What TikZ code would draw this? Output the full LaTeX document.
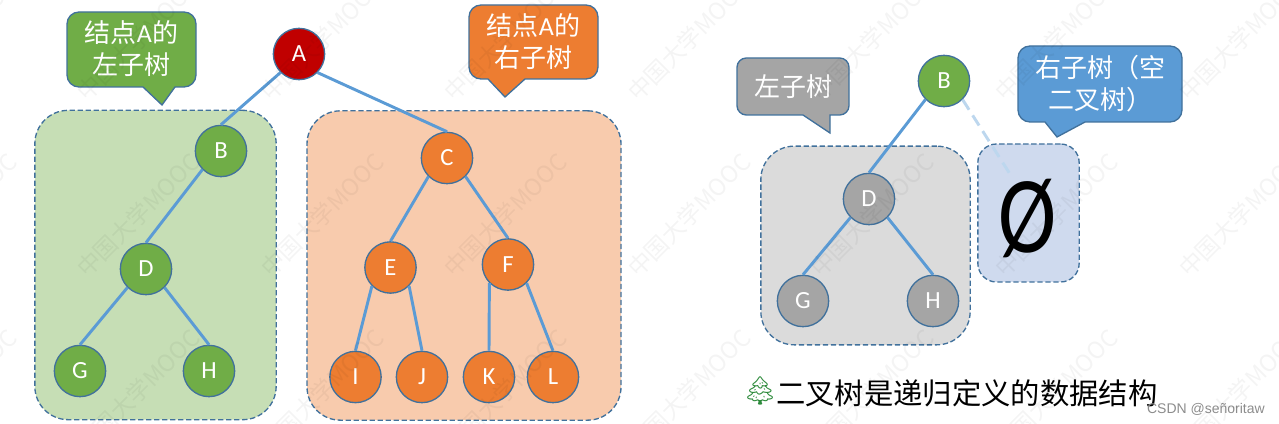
\documentclass[tikz,border=0pt]{standalone}
\usepackage{fontspec}
\setmainfont{Carlito}
\newfontfamily\cjk{Noto Sans CJK SC}
\newfontfamily\emoji{Noto Emoji}
\newfontfamily\csdn{Liberation Sans}
\usetikzlibrary{shapes,backgrounds,fit}
\definecolor{greenfill}{HTML}{70AD47}
\definecolor{orangefill}{HTML}{ED7D31}
\definecolor{bluefill}{HTML}{5B9BD5}
\definecolor{greyfill}{HTML}{A5A5A5}
\definecolor{rootfill}{HTML}{C00000}
\definecolor{edgeblue}{HTML}{41719C}
\definecolor{linkblue}{HTML}{5B9BD5}
\definecolor{nullfill}{HTML}{CFDAEE}
\definecolor{treegreen}{HTML}{2E8B3C}
\begin{document}
\begin{tikzpicture}[x=0.75pt, y=-0.75pt, auto,
	treenode/.style={circle, draw=edgeblue, line width=1pt, minimum size=38.5pt, inner sep=0pt, text=white, font=\fontsize{18.5}{20}\selectfont},
	region/.style={rectangle, draw=edgeblue, line width=1pt, dash pattern=on 4pt off 2pt, rounded corners=25pt, inner sep=0pt},
	bubble/.style={draw=edgeblue, line width=1pt},
	bubbletext/.style={align=center, text=white, inner sep=0pt, font=\fontsize{19.5}{24}\selectfont},
	link/.style={draw=linkblue, line width=2.2pt},
	watermark/.style={rotate=45, text=black, text opacity=0.045, inner sep=0pt, font=\fontsize{17.5}{18}\selectfont}]
	\useasboundingbox (0, 0) rectangle (1279, 424);

	\node[region, fill=greenfill!40, minimum width=181pt, minimum height=232pt] (leftarea) at (155.5, 265) {};
	\node[region, fill=orangefill!40, minimum width=235.5pt, minimum height=232pt] (rightarea) at (464, 265.5) {};
	\node[region, fill=greyfill!40!white, minimum width=157pt, minimum height=149pt] (greyarea) at (865.5, 245.5) {};
	\node[region, fill=nullfill, rounded corners=14pt, minimum width=76pt, minimum height=103.5pt] (nullarea) at (1028.5, 213) {};

	\draw[bubble, fill=greenfill] (143, 87) [rounded corners=9pt] -- (67, 87) -- (67, 12) -- (196, 12) -- (196, 87) [sharp corners] -- (175, 87) -- (162, 105) -- cycle;
	\draw[bubble, fill=orangefill] (488, 79) [rounded corners=9pt] -- (469, 79) -- (469, 5) -- (598, 5) -- (598, 79) [sharp corners] -- (525, 79) -- (505, 97) -- cycle;
	\draw[bubble, fill=greyfill] (803, 115) [rounded corners=7pt] -- (737, 115) -- (737, 58) -- (849, 58) -- (849, 115) [sharp corners] -- (830, 115) -- (830, 133) -- cycle;
	\draw[bubble, fill=bluefill] (1045, 122) [rounded corners=9pt] -- (1018, 122) -- (1018, 46) -- (1182, 46) -- (1182, 122) [sharp corners] -- (1085, 122) -- (1057, 137) -- cycle;

	\node[bubbletext] (lefttip) at (131.5, 49) {{\cjk 结点}A{\cjk 的}\\\cjk 左子树};
	\node[bubbletext] (righttip) at (533.5, 42) {{\cjk 结点}A{\cjk 的}\\\cjk 右子树};
	\node[bubbletext] (greytip) at (793, 87) {\cjk 左子树};
	\node[bubbletext] (bluetip) at (1100, 84) {\cjk 右子树（空\\\cjk 二叉树）};

	\node[treenode, fill=rootfill] (a) at (299, 54) {A};
	\node[treenode, fill=greenfill] (b) at (221, 151) {B};
	\node[treenode, fill=greenfill] (d) at (146, 269) {D};
	\node[treenode, fill=greenfill] (g) at (80, 371) {G};
	\node[treenode, fill=greenfill] (h) at (209, 371) {H};
	\node[treenode, fill=orangefill] (c) at (447, 158) {C};
	\node[treenode, fill=orangefill] (e) at (390.5, 267.5) {E};
	\node[treenode, fill=orangefill] (f) at (508, 264.5) {F};
	\node[treenode, fill=orangefill] (i) at (355.5, 377) {I};
	\node[treenode, fill=orangefill] (j) at (422, 377) {J};
	\node[treenode, fill=orangefill] (k) at (489, 377) {K};
	\node[treenode, fill=orangefill] (l) at (553, 377) {L};

	\node[treenode, fill=greenfill] (b2) at (944, 81) {B};
	\node[treenode, fill=greyfill] (d2) at (869, 199) {D};
	\node[treenode, fill=greyfill] (g2) at (803, 301) {G};
	\node[treenode, fill=greyfill] (h2) at (933, 301) {H};
	\coordinate (nulltop) at (1010, 174);
	\node[inner sep=0pt, xscale=0.8, font=\fontsize{82}{82}\selectfont] (null) at (1028, 218) {Ø};

	\path[link] (a.225) edge (b.north) (b.225) edge (d.north) (d.225) edge (g.north) (d.315) edge (h.north);
	\path[link] (a.315) edge (c.north) (c.225) edge (e.north) (c.315) edge (f.north);
	\path[link] (e.225) edge (i.north) (e.315) edge (j.north) (f.225) edge (k.north) (f.315) edge (l.north);
	\path[link] (b2.225) edge (d2.north) (d2.225) edge (g2.north) (d2.315) edge (h2.north);
	\path[link, draw=linkblue!40, dash pattern=on 9pt off 5pt] (b2.315) edge (nulltop);

	\node[inner sep=0pt, anchor=west, text=treegreen, font=\fontsize{21}{24}\selectfont] (treeicon) at (742, 391) {\emoji 🌲};
	\node[inner sep=0pt, anchor=west, font=\fontsize{22}{24}\selectfont] (caption) at (776, 393) {\cjk 二叉树是递归定义的数据结构};
	\node[inner sep=0pt, anchor=east, text=black!45, font=\fontsize{10.5}{12}\selectfont] (credit) at (1265, 409) {\csdn CSDN @señoritaw};

	\foreach \mx in {-45, 138, 322, 505, 689, 872, 1056, 1240}
		\foreach \my in {39, 215, 391}
			\node[watermark] (mark\mx\my) at (\mx, \my) {\cjk 中国大学MOOC};
\end{tikzpicture}
\end{document}
